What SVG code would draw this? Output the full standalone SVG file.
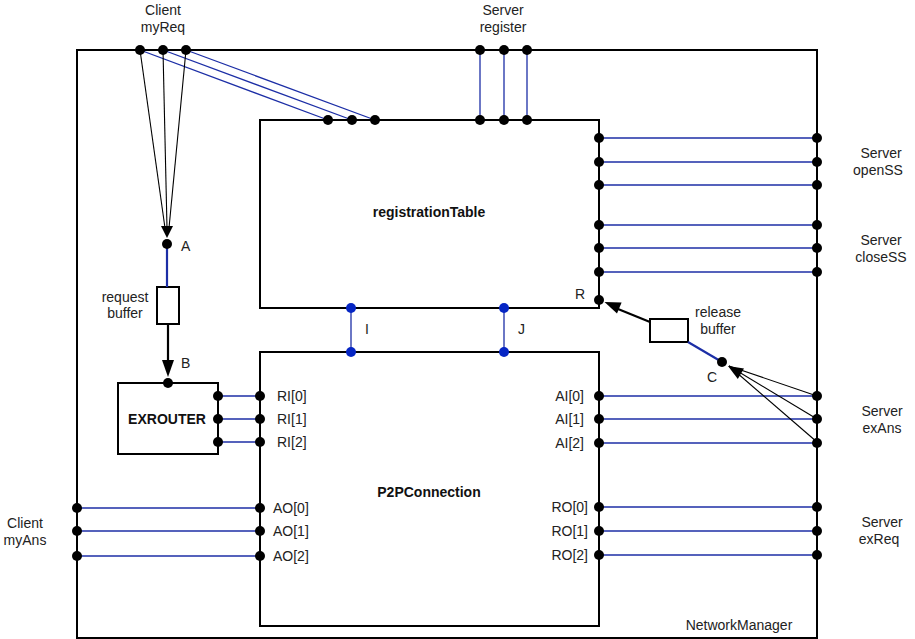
<svg xmlns="http://www.w3.org/2000/svg" width="915" height="639" viewBox="0 0 915 639">
<style>
text{font-family:"Liberation Sans",Arial,Helvetica,sans-serif;font-size:14px;fill:#222}
.b{font-weight:bold;fill:#111}
.m{text-anchor:middle}
.e{text-anchor:end}
.box{fill:#fff;stroke:#000;stroke-width:2}
.blue{stroke:#1c2ea6;stroke-width:1.3;fill:none}
.blue2{stroke:#1c2ea6;stroke-width:2.2;fill:none}
.thin{stroke:#000;stroke-width:1.1;fill:none}
.thick{stroke:#000;stroke-width:2.2;fill:none}
.dot{fill:#000}
.bdot{fill:#0626c4}
.head{fill:#000}
</style>
<rect width="915" height="639" fill="#fff"/>

<g id="NetworkManager">
<rect class="box" x="77" y="50" width="740" height="588" fill="none"/>
<text x="739" y="630" class="m">NetworkManager</text>
</g>

<g id="registrationTable">
<rect class="box" x="260" y="120" width="339" height="188"/>
<text x="429" y="217" class="b m">registrationTable</text>
<text x="585" y="299" class="e">R</text>
</g>

<g id="P2PConnection">
<rect class="box" x="260" y="352" width="339" height="274"/>
<text x="429" y="497" class="b m">P2PConnection</text>
<text x="277" y="401">RI[0]</text>
<text x="277" y="424">RI[1]</text>
<text x="277" y="447">RI[2]</text>
<text x="273" y="513">AO[0]</text>
<text x="273" y="536">AO[1]</text>
<text x="273" y="561">AO[2]</text>
<text x="584" y="401" class="e">AI[0]</text>
<text x="584" y="424" class="e">AI[1]</text>
<text x="584" y="448" class="e">AI[2]</text>
<text x="588" y="512" class="e">RO[0]</text>
<text x="588" y="536" class="e">RO[1]</text>
<text x="588" y="560" class="e">RO[2]</text>
</g>

<g id="EXROUTER">
<rect class="box" x="118" y="383" width="100" height="71"/>
<text x="167" y="424" class="b m">EXROUTER</text>
</g>

<g id="requestBuffer">
<rect class="box" x="157" y="287" width="22" height="37"/>
<text x="125" y="302" class="m">request</text>
<text x="125" y="318" class="m">buffer</text>
</g>

<g id="releaseBuffer">
<rect class="box" x="650" y="319" width="38" height="23"/>
<text x="718" y="317" class="m">release</text>
<text x="718" y="334" class="m">buffer</text>
</g>

<g id="labels">
<text x="163" y="15" class="m">Client</text>
<text x="163" y="32" class="m">myReq</text>
<text x="503" y="15" class="m">Server</text>
<text x="503" y="32" class="m">register</text>
<text x="881" y="158" class="m">Server</text>
<text x="878" y="175" class="m">openSS</text>
<text x="881" y="245" class="m">Server</text>
<text x="881" y="262" class="m">closeSS</text>
<text x="882" y="416" class="m">Server</text>
<text x="882" y="433" class="m">exAns</text>
<text x="882" y="527" class="m">Server</text>
<text x="879" y="544" class="m">exReq</text>
<text x="25" y="528" class="m">Client</text>
<text x="25" y="545" class="m">myAns</text>
<text x="181" y="251">A</text>
<text x="181" y="368">B</text>
<text x="707" y="382">C</text>
<text x="365" y="334">I</text>
<text x="518" y="334">J</text>
</g>

<g id="connectors">
<!-- myReq to registrationTable -->
<line class="blue" x1="140" y1="50" x2="328" y2="120"/>
<line class="blue" x1="163" y1="50" x2="352" y2="120"/>
<line class="blue" x1="186" y1="50" x2="375" y2="120"/>
<!-- myReq to A -->
<line class="thin" x1="140" y1="50" x2="165" y2="228"/>
<line class="thin" x1="163" y1="50" x2="167" y2="228"/>
<line class="thin" x1="186" y1="50" x2="169" y2="228"/>
<polygon class="head" points="161,226 173,226 167,238"/>
<!-- register -->
<line class="blue" x1="480" y1="50" x2="480" y2="120"/>
<line class="blue" x1="504" y1="50" x2="504" y2="120"/>
<line class="blue" x1="527" y1="50" x2="527" y2="120"/>
<!-- openSS / closeSS -->
<line class="blue" x1="599" y1="138" x2="817" y2="138"/>
<line class="blue" x1="599" y1="162" x2="817" y2="162"/>
<line class="blue" x1="599" y1="185" x2="817" y2="185"/>
<line class="blue" x1="599" y1="225" x2="817" y2="225"/>
<line class="blue" x1="599" y1="248" x2="817" y2="248"/>
<line class="blue" x1="599" y1="272" x2="817" y2="272"/>
<!-- I J -->
<line class="blue" x1="351" y1="308" x2="351" y2="352"/>
<line class="blue" x1="504" y1="308" x2="504" y2="352"/>
<!-- request buffer path -->
<line class="blue2" x1="167" y1="244" x2="167" y2="287"/>
<line class="thick" x1="168" y1="324" x2="168" y2="362"/>
<polygon class="head" points="162,360 174,360 168,377"/>
<!-- EXROUTER to P2P -->
<line class="blue" x1="218" y1="396" x2="260" y2="396"/>
<line class="blue" x1="218" y1="419" x2="260" y2="419"/>
<line class="blue" x1="218" y1="442" x2="260" y2="442"/>
<!-- AI -->
<line class="blue" x1="599" y1="396" x2="817" y2="396"/>
<line class="blue" x1="599" y1="419" x2="817" y2="419"/>
<line class="blue" x1="599" y1="443" x2="817" y2="443"/>
<!-- AO -->
<line class="blue" x1="77" y1="508" x2="260" y2="508"/>
<line class="blue" x1="77" y1="531" x2="260" y2="531"/>
<line class="blue" x1="77" y1="556" x2="260" y2="556"/>
<!-- RO -->
<line class="blue" x1="599" y1="507" x2="817" y2="507"/>
<line class="blue" x1="599" y1="531" x2="817" y2="531"/>
<line class="blue" x1="599" y1="555" x2="817" y2="555"/>
<!-- release buffer path -->
<line class="thick" x1="650" y1="322" x2="618" y2="309"/>
<polygon class="head" points="604.5,302 621.6,302.6 617,313.6"/>
<line class="blue2" x1="688" y1="342" x2="722" y2="362"/>
<!-- exAns to C -->
<line class="thin" x1="817" y1="396" x2="729" y2="366"/>
<line class="thin" x1="817" y1="419" x2="729" y2="366"/>
<line class="thin" x1="817" y1="442" x2="729" y2="366"/>
<polygon class="head" points="728,366 737.8,378.9 744,368.5"/>
</g>

<g id="ports">
<g class="dot">
<circle cx="140" cy="50" r="5"/><circle cx="163" cy="50" r="5"/><circle cx="186" cy="50" r="5"/>
<circle cx="480" cy="50" r="5"/><circle cx="504" cy="50" r="5"/><circle cx="527" cy="50" r="5"/>
<circle cx="328" cy="120" r="5"/><circle cx="352" cy="120" r="5"/><circle cx="375" cy="120" r="5"/>
<circle cx="480" cy="120" r="5"/><circle cx="504" cy="120" r="5"/><circle cx="527" cy="120" r="5"/>
<circle cx="599" cy="138" r="5"/><circle cx="599" cy="162" r="5"/><circle cx="599" cy="185" r="5"/>
<circle cx="599" cy="225" r="5"/><circle cx="599" cy="248" r="5"/><circle cx="599" cy="272" r="5"/>
<circle cx="817" cy="138" r="5"/><circle cx="817" cy="162" r="5"/><circle cx="817" cy="185" r="5"/>
<circle cx="817" cy="225" r="5"/><circle cx="817" cy="248" r="5"/><circle cx="817" cy="272" r="5"/>
<circle cx="599" cy="300" r="5"/>
<circle cx="167" cy="244" r="5"/>
<circle cx="168" cy="383" r="5"/>
<circle cx="722" cy="362" r="5"/>
<circle cx="218" cy="396" r="5"/><circle cx="218" cy="419" r="5"/><circle cx="218" cy="442" r="5"/>
<circle cx="260" cy="396" r="5"/><circle cx="260" cy="419" r="5"/><circle cx="260" cy="442" r="5"/>
<circle cx="599" cy="396" r="5"/><circle cx="599" cy="419" r="5"/><circle cx="599" cy="443" r="5"/>
<circle cx="817" cy="396" r="5"/><circle cx="817" cy="419" r="5"/><circle cx="817" cy="443" r="5"/>
<circle cx="77" cy="508" r="5"/><circle cx="77" cy="531" r="5"/><circle cx="77" cy="556" r="5"/>
<circle cx="260" cy="508" r="5"/><circle cx="260" cy="531" r="5"/><circle cx="260" cy="556" r="5"/>
<circle cx="599" cy="507" r="5"/><circle cx="599" cy="531" r="5"/><circle cx="599" cy="555" r="5"/>
<circle cx="817" cy="507" r="5"/><circle cx="817" cy="531" r="5"/><circle cx="817" cy="555" r="5"/>
</g>
<g class="bdot">
<circle cx="351" cy="308" r="5"/><circle cx="504" cy="308" r="5"/>
<circle cx="351" cy="352" r="5"/><circle cx="504" cy="352" r="5"/>
</g>
</g>
</svg>
